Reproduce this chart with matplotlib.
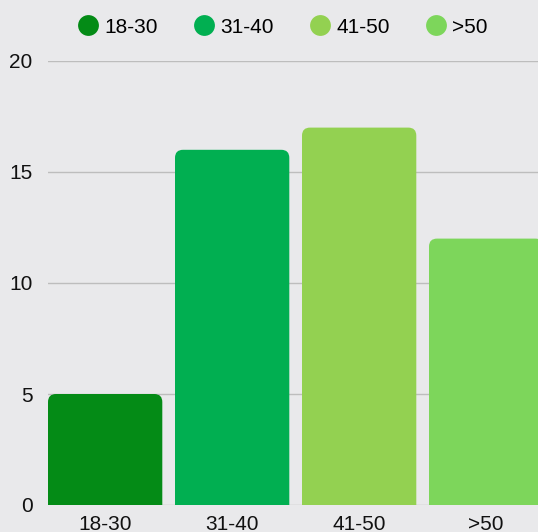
import matplotlib.pyplot as plt
from matplotlib.path import Path
from matplotlib.patches import PathPatch
from matplotlib.lines import Line2D
from matplotlib.transforms import IdentityTransform

plt.rcParams['font.family'] = ['Liberation Sans', 'DejaVu Sans']

groups = ['18-30', '31-40', '41-50', '>50']
counts = [5, 16, 17, 12]
colors = ['#048B16', '#01AF51', '#93D151', '#7DD65B']
yticks = [0, 5, 10, 15, 20]

bg = '#E9E9EB'
W, H = 538, 532
fig = plt.figure(figsize=(W / 100, H / 100), dpi=100)
fig.patch.set_facecolor(bg)

# plot area runs past the right edge, like the original
ax = fig.add_axes([48 / W, 27 / H, 508 / W, 444 / H])
ax.set_facecolor(bg)
ax.set_xlim(-0.45, 3.55)
ax.set_ylim(0, 20)
ax.set_yticks(yticks)
ax.set_xticks(range(len(groups)))
ax.set_xticklabels(groups)
ax.yaxis.grid(True, color='#BDBDBD', lw=1)
ax.set_axisbelow(True)
for s in ax.spines.values():
    s.set_visible(False)
ax.tick_params(axis='both', length=0, labelsize=15, colors='#111111')
ax.tick_params(axis='y', pad=11)
ax.tick_params(axis='x', pad=7)

bars = ax.bar(range(len(groups)), counts, width=0.9, color=colors)

# rounded top corners, built in pixel space from the bar rectangles
r = 8
for b in bars:
    b.set_visible(False)
    (x0, y0), (x1, y1) = ax.transData.transform(
        [(b.get_x(), 0), (b.get_x() + b.get_width(), b.get_height())])
    verts = [(x0, y0), (x1, y0), (x1, y1 - r), (x1, y1), (x1 - r, y1),
             (x0 + r, y1), (x0, y1), (x0, y1 - r), (x0, y0)]
    codes = [Path.MOVETO, Path.LINETO, Path.LINETO, Path.CURVE3, Path.CURVE3,
             Path.LINETO, Path.CURVE3, Path.CURVE3, Path.CLOSEPOLY]
    p = PathPatch(Path(verts, codes), transform=IdentityTransform(),
                  facecolor=b.get_facecolor(), edgecolor='none', zorder=3)
    ax.add_artist(p)

handles = [Line2D([], [], ls='none', marker='o', markersize=15,
                  markerfacecolor=c, markeredgecolor='none') for c in colors]
fig.legend(handles, groups, loc='center', bbox_to_anchor=(282 / W, 1 - 27 / H),
           ncol=4, frameon=False, fontsize=15, handletextpad=0.25,
           columnspacing=1.65, handlelength=1.1)

fig.savefig('out.png', dpi=100, facecolor=bg)
